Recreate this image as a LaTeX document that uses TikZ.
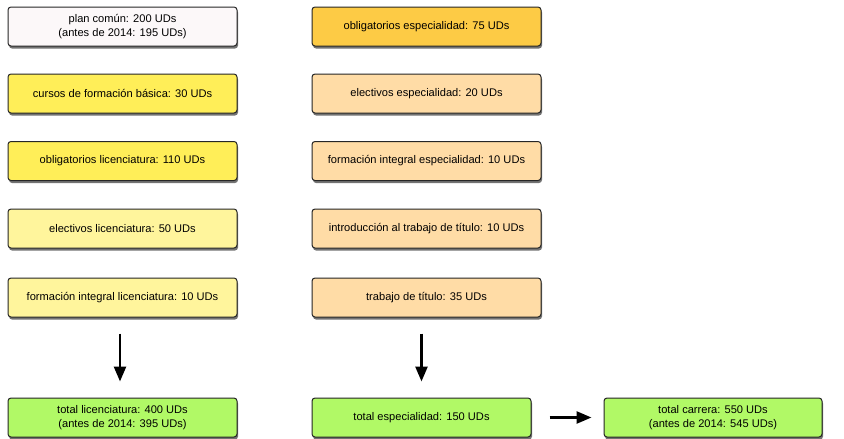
\documentclass[tikz,border=0pt]{standalone}
\usepackage{fontspec}
\setmainfont{Liberation Sans}
\usetikzlibrary{arrows.meta,shadows}
\definecolor{cwhite}{HTML}{FCF8F9}
\definecolor{cyel}{HTML}{FFEE58}
\definecolor{clyel}{HTML}{FFF59C}
\definecolor{corange}{HTML}{FDCB45}
\definecolor{cpeach}{HTML}{FFDCA6}
\definecolor{cgreen}{HTML}{B1F966}
\begin{document}
\begin{tikzpicture}[x=1pt,y=-1pt,
  box/.style={draw=black!85, line width=1pt, rounded corners=3pt,
    minimum width=229pt, minimum height=39pt, align=center, inner sep=0pt,
    font=\fontsize{11.1}{13.5}\selectfont,
    drop shadow={shadow xshift=1pt, shadow yshift=-2.5pt, opacity=0.55, fill=black}},
  arr/.style={line width=2.6pt, -{Triangle[length=15pt,width=12pt]}}]
\useasboundingbox (0,0) rectangle (844,439);
\fill[white] (0,0) rectangle (844,439);
% left column
\node[box, fill=cwhite] (plan) at (122.5,26.5) {plan común: 200 UDs\\(antes de 2014: 195 UDs)};
\node[box, fill=cyel] (cursos) at (122.5,93.5) {cursos de formación básica: 30 UDs};
\node[box, fill=cyel] (oblic) at (122.5,161) {obligatorios licenciatura: 110 UDs};
\node[box, fill=clyel] (elelic) at (122.5,228.5) {electivos licenciatura: 50 UDs};
\node[box, fill=clyel] (forlic) at (122.5,297.5) {formación integral licenciatura: 10 UDs};
\node[box, fill=cgreen] (totlic) at (122.5,417.5) {total licenciatura: 400 UDs\\(antes de 2014: 395 UDs)};
% right column
\node[box, fill=corange] (obesp) at (426.5,26.5) {obligatorios especialidad: 75 UDs};
\node[box, fill=cpeach] (elesp) at (426.5,93.5) {electivos especialidad: 20 UDs};
\node[box, fill=cpeach] (foresp) at (426.5,161) {formación integral especialidad: 10 UDs};
\node[box, fill=cpeach] (intro) at (426.5,228.5) {introducción al trabajo de título: 10 UDs};
\node[box, fill=cpeach] (trab) at (426.5,297.5) {trabajo de título: 35 UDs};
\node[box, fill=cgreen, minimum width=219pt] (totesp) at (421.5,417.5) {total especialidad: 150 UDs};
\node[box, fill=cgreen, minimum width=218pt] (totcar) at (713,417.5) {total carrera: 550 UDs\\(antes de 2014: 545 UDs)};
% arrows
\draw[arr, shorten <=16pt, shorten >=16pt] (forlic.south -| 120,0) -- (totlic.north -| 120,0);
\draw[arr, shorten <=16pt, shorten >=16pt] (trab.south -| totesp.north) -- (totesp.north);
\draw[arr, shorten <=18pt, shorten >=12pt] (totesp.east) -- (totcar.west);
\end{tikzpicture}
\end{document}
